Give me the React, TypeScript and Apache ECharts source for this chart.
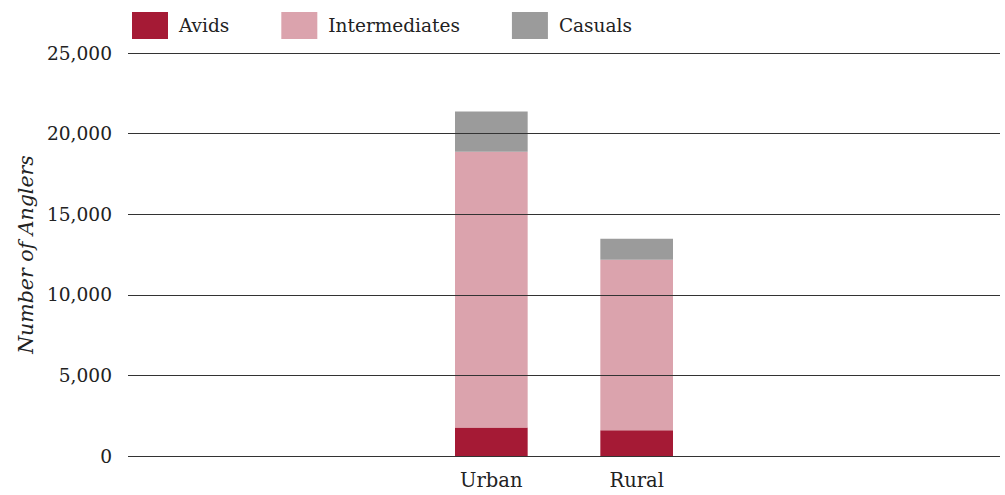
import React, { useEffect, useRef } from "react";
import * as echarts from "echarts";

const categories = ["", "", "Urban", "Rural", "", ""];
const avids = [null, null, 1775, 1590, null, null];
const intermediates = [null, null, 17100, 10590, null, null];
const casuals = [null, null, 2500, 1300, null, null];
const yTicks = [0, 5000, 10000, 15000, 20000, 25000];

const FONT = "DejaVu Serif";

export default function App() {
  const ref = useRef<HTMLDivElement>(null);
  useEffect(() => {
    if (!ref.current) return;
    const chart = echarts.init(ref.current, null, { renderer: "svg" });
    const fmt = (v: number) => v.toLocaleString("en-US");
    chart.setOption({
      animation: false,
      textStyle: { fontFamily: FONT, color: "#222" },
      legend: {
        left: 127,
        top: 7,
        itemWidth: 36,
        itemHeight: 27,
        itemGap: 52,
        icon: "rect",
        textStyle: { fontFamily: FONT, fontSize: 18.5, color: "#222", padding: [0, 0, 0, 6] },
        data: ["Avids", "Intermediates", "Casuals"],
      },
      grid: { left: 128, right: 5, top: 53, bottom: 39 },
      xAxis: {
        type: "category",
        data: categories,
        axisLine: { show: false },
        axisTick: { show: false },
        axisLabel: { fontFamily: FONT, fontSize: 19.5, color: "#222", margin: 14 },
      },
      yAxis: {
        type: "value",
        min: yTicks[0],
        max: yTicks[yTicks.length - 1],
        interval: 5000,
        z: 10,
        name: "Number of Anglers",
        nameLocation: "middle",
        nameGap: 89,
        nameTextStyle: { fontFamily: FONT, fontStyle: "italic", fontSize: 20.5, color: "#222" },
        axisLine: { show: false },
        axisTick: { show: false },
        axisLabel: { fontFamily: FONT, fontSize: 18.6, color: "#222", margin: 16, formatter: fmt },
        splitLine: { lineStyle: { color: "#333", width: 1 } },
      },
      series: [
        { name: "Avids", type: "bar", stack: "a", data: avids, barWidth: "50%", itemStyle: { color: "#A51A35" } },
        { name: "Intermediates", type: "bar", stack: "a", data: intermediates, barWidth: "50%", itemStyle: { color: "#DBA3AD" } },
        { name: "Casuals", type: "bar", stack: "a", data: casuals, barWidth: "50%", itemStyle: { color: "#9B9B9B" } },
      ],
    });
    return () => chart.dispose();
  }, []);
  return <div ref={ref} style={{ width: 1005, height: 495, position: "absolute", left: 0, top: 0 }} />;
}
